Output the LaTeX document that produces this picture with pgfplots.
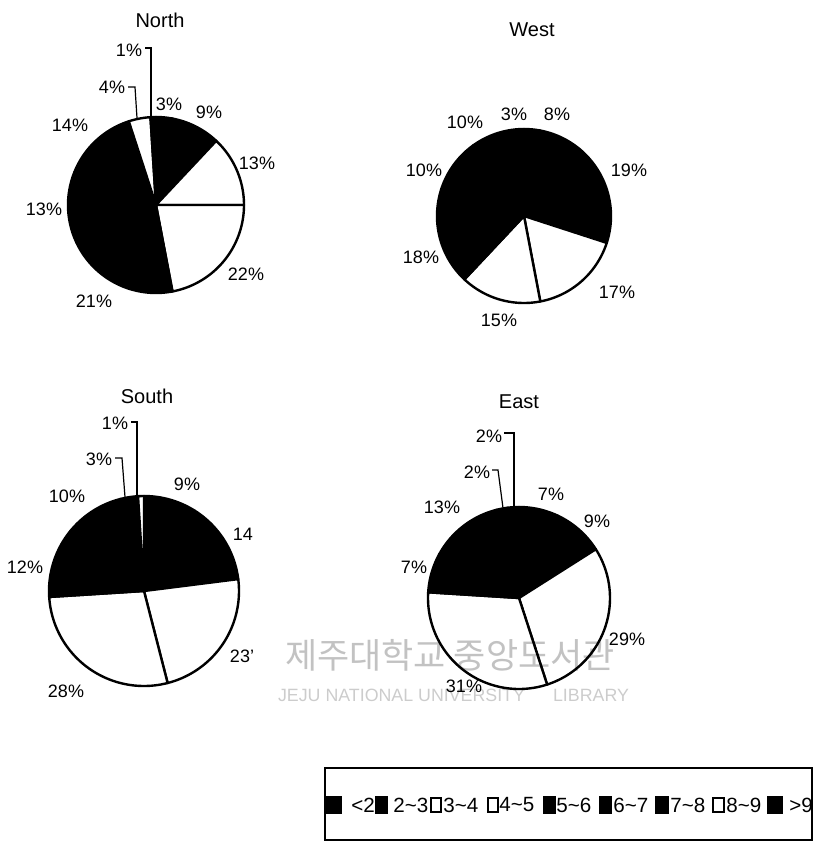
\documentclass[border=0pt]{standalone}
\usepackage{pgfplots}
\pgfplotsset{compat=1.18}
\usepackage{pgfplotstable}
\usepackage{fontspec}
\setmainfont{Liberation Sans}
\newfontfamily\krfont{Noto Sans CJK KR}

% shares in % of each class, clockwise from 12 o'clock
\pgfplotstableread{
val col
3 black
9 black
13 white
22 white
21 black
13 black
14 black
4 white
1 black
}\northtab
\pgfplotstableread{
val col
3 black
8 black
19 black
17 white
15 white
18 black
10 black
10 black
}\westtab
\pgfplotstableread{
val col
9 black
14 black
23 white
28 white
12 black
10 black
3 black
1 white
}\southtab
\pgfplotstableread{
val col
7 black
9 black
29 white
31 white
7 black
13 black
2 black
2 black
}\easttab

% #1 table, #2 cx, #3 cy, #4 radius (pixel units, y downwards)
\newcommand\drawpie[4]{%
  \pgfplotstablegetrowsof{#1}%
  \pgfmathtruncatemacro\pieN{\pgfplotsretval-1}%
  \def\pieCum{0}%
  \pgfplotsforeachungrouped \pieI in {0,...,\pieN}{%
    \pgfplotstablegetelem{\pieI}{val}\of{#1}\let\pieV\pgfplotsretval
    \pgfplotstablegetelem{\pieI}{col}\of{#1}\let\pieF\pgfplotsretval
    \pgfmathsetmacro\pieS{90-3.6*\pieCum}%
    \pgfmathsetmacro\pieE{90-3.6*(\pieCum+\pieV)}%
    \pgfmathtruncatemacro\pieNs{max(2,ceil(3.6*\pieV/2))}%
    \xdef\pieCoords{(#2,#3)}%
    \foreach \k in {0,...,\pieNs}{%
      \pgfmathsetmacro\pieA{\pieS+(\pieE-\pieS)*\k/\pieNs}%
      \pgfmathsetmacro\pieX{#2+#4*cos(\pieA)}%
      \pgfmathsetmacro\pieY{#3-#4*sin(\pieA)}%
      \xdef\pieCoords{\pieCoords (\pieX,\pieY)}%
    }%
    \edef\pieDo{\noexpand\addplot[fill=\pieF, draw=black, line width=1.2pt, line join=round] coordinates {\pieCoords (#2,#3)};}%
    \pieDo
    \pgfmathsetmacro\pieCum{\pieCum+\pieV}%
  }%
}
\newcommand\tl{\textasciitilde}

\begin{document}
\begin{tikzpicture}[font=\fontsize{9}{11}\selectfont]
\useasboundingbox (0,0) rectangle (408.5pt,423.5pt);
\begin{axis}[at={(0,0)}, anchor=south west, scale only axis,
  width=408.5pt, height=423.5pt,
  xmin=0, xmax=817, ymin=0, ymax=847, y dir=reverse,
  hide axis, clip=false]

% pies
\drawpie{\northtab}{156}{205}{88}
\drawpie{\westtab}{524}{216}{87}
\drawpie{\southtab}{144}{591}{95}
\drawpie{\easttab}{519}{598}{91}

% titles
\node[font=\fontsize{10}{12}\selectfont] at (axis cs:160,20) {North};
\node[font=\fontsize{10}{12}\selectfont] at (axis cs:532,30) {West};
\node[font=\fontsize{10}{12}\selectfont] at (axis cs:147,396) {South};
\node[font=\fontsize{10}{12}\selectfont] at (axis cs:519,402) {East};

% North labels
\node at (axis cs:129,50) {1\%};
\draw[line width=0.6pt] (axis cs:145,48) -- (axis cs:151,48) -- (axis cs:151,117);
\node at (axis cs:112,87) {4\%};
\draw[line width=0.6pt] (axis cs:128,87) -- (axis cs:135,87) -- (axis cs:137,118);
\node at (axis cs:169,104) {3\%};
\node at (axis cs:209,112) {9\%};
\node at (axis cs:70,125) {14\%};
\node at (axis cs:257,163) {13\%};
\node at (axis cs:44,209) {13\%};
\node at (axis cs:246,274) {22\%};
\node at (axis cs:94,301) {21\%};

% West labels
\node at (axis cs:465,122) {10\%};
\node at (axis cs:514,114) {3\%};
\node at (axis cs:557,114) {8\%};
\node at (axis cs:424,170) {10\%};
\node at (axis cs:629,170) {19\%};
\node at (axis cs:421,257) {18\%};
\node at (axis cs:617,292) {17\%};
\node at (axis cs:499,320) {15\%};

% South labels
\node at (axis cs:115,423) {1\%};
\draw[line width=0.6pt] (axis cs:131,422) -- (axis cs:137,422) -- (axis cs:137,497);
\node at (axis cs:99,459) {3\%};
\draw[line width=0.6pt] (axis cs:115,458) -- (axis cs:122,458) -- (axis cs:125,497);
\node at (axis cs:187,484) {9\%};
\node at (axis cs:67,496) {10\%};
\node at (axis cs:243,534) {14};
\node at (axis cs:25,567) {12\%};
\node at (axis cs:242,656) {23'};
\node at (axis cs:66,691) {28\%};

% East labels
\node at (axis cs:489,436) {2\%};
\draw[line width=0.6pt] (axis cs:504,433) -- (axis cs:514,433) -- (axis cs:514,508);
\node at (axis cs:477,472) {2\%};
\draw[line width=0.6pt] (axis cs:492,470) -- (axis cs:498,470) -- (axis cs:503,508);
\node at (axis cs:551,494) {7\%};
\node at (axis cs:442,507) {13\%};
\node at (axis cs:597,521) {9\%};
\node at (axis cs:414,567) {7\%};
\node at (axis cs:627,639) {29\%};
\node at (axis cs:464,686) {31\%};

% watermark (over the picture, as in the scan)
\begin{scope}[blend mode=multiply]
\node[text=black!24, font=\krfont\fontsize{17.5}{20}\selectfont] at (axis cs:450,655) {제주대학교 중앙도서관};
\node[text=black!20, anchor=west, font=\fontsize{8.9}{10}\selectfont] at (axis cs:271,695) {JEJU NATIONAL UNIVERSITY};
\node[text=black!20, anchor=west, font=\fontsize{8.9}{10}\selectfont] at (axis cs:546,695) {LIBRARY};
\end{scope}

% legend
\draw[line width=0.6pt] (axis cs:325,768) rectangle (axis cs:812,840);
\begin{scope}[every node/.style={anchor=west, inner sep=0pt, font=\fontsize{10.3}{12}\selectfont}]
\filldraw[line width=0.8pt] (axis cs:327,797) rectangle (axis cs:341,813);
\node at (axis cs:351,805) {<2};
\filldraw[line width=0.8pt] (axis cs:376,797) rectangle (axis cs:387,813);
\node at (axis cs:393,805) {2\tl3};
\draw[line width=1pt, fill=white] (axis cs:431,798) rectangle (axis cs:441,812);
\node at (axis cs:443,805) {3\tl4};
\draw[line width=1pt, fill=white] (axis cs:488,798) rectangle (axis cs:498,812);
\node at (axis cs:499,805) {4\tl5};
\filldraw[line width=0.8pt] (axis cs:544,797) rectangle (axis cs:555,813);
\node at (axis cs:556,805) {5\tl6};
\filldraw[line width=0.8pt] (axis cs:600,797) rectangle (axis cs:611,813);
\node at (axis cs:613,805) {6\tl7};
\filldraw[line width=0.8pt] (axis cs:656,797) rectangle (axis cs:668,813);
\node at (axis cs:670,805) {7\tl8};
\draw[line width=1pt, fill=white] (axis cs:713,798) rectangle (axis cs:724,812);
\node at (axis cs:726,805) {8\tl9};
\filldraw[line width=0.8pt] (axis cs:768,797) rectangle (axis cs:782,813);
\node at (axis cs:789,805) {>9};
\end{scope}
\end{axis}
\end{tikzpicture}
\end{document}
